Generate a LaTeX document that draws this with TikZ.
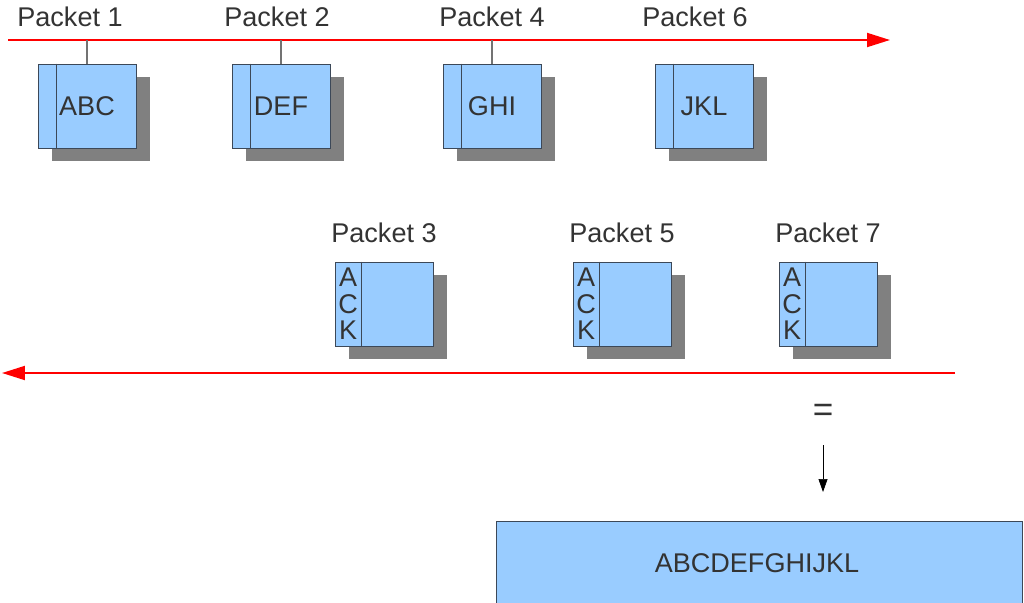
\documentclass[tikz,border=0pt]{standalone}
\usepackage{fontspec}
\setmainfont{Liberation Sans}
\usetikzlibrary{arrows.meta,shadows}

\definecolor{pktblue}{RGB}{153,204,255}
\definecolor{pktedge}{RGB}{60,72,88}
\definecolor{txtgray}{RGB}{51,51,51}

\tikzset{
  pkt/.style={draw=pktedge, fill=pktblue, minimum width=1.96cm, minimum height=1.68cm,
    inner sep=0pt, text=txtgray,
    drop shadow={shadow xshift=0.28cm, shadow yshift=-0.26cm, fill=black!50, opacity=1}},
  lbl/.style={text=txtgray},
  wire/.style={red, line width=1.1pt, -{Triangle[length=0.46cm,width=0.28cm]}},
}

\begin{document}
\begin{tikzpicture}[x=0.02cm, y=-0.02cm, font=\fontsize{15.4}{15}\selectfont]
    \useasboundingbox (0,0) rectangle (1024,602);

    % sender -> receiver
    \coordinate (tl) at (8,40);
    \coordinate (tr) at (890,40);
    \draw[wire] (tl) -- (tr);

    \foreach \name/\txt/\x/\lx/\num in {abc/ABC/87/70/1, def/DEF/281/277/2, ghi/GHI/492/492/4, jkl/JKL/704/695/6} {
        \node[lbl] (l\name) at (\lx,17) {Packet \num};
        \node[pkt] (\name) at (\x,106) {\txt};
        \draw[pktedge] ([xshift=0.38cm]\name.north west) -- ([xshift=0.38cm]\name.south west);
    }
    \foreach \name in {abc,def,ghi} \draw[black!55, thick] (\name.north) -- (\name.north |- tl);

    % acknowledgements
    \coordinate (bl) at (2,373);
    \coordinate (br) at (955,373);
    \draw[wire] (br) -- (bl);

    \foreach \name/\x/\num in {ack3/384/3, ack5/622/5, ack7/828/7} {
        \node[lbl] (l\name) at (\x,233) {Packet \num};
        \node[pkt] (\name) at (\x,304) {};
        \draw[pktedge] ([xshift=0.54cm]\name.north west) -- ([xshift=0.54cm]\name.south west);
        \node[lbl, align=center, inner sep=0pt] (t\name) at ([xshift=0.27cm]\name.west) {A\\C\\K};
    }

    % result
    \node[lbl, font=\fontsize{20}{20}\selectfont] (eq) at (823,413) {=};
    \coordinate (res) at (823,492);
    \draw[black, -{Triangle[length=0.26cm,width=0.18cm]}] (823,445) -- (res);
    \draw[pktedge, fill=pktblue] (496,521) rectangle (1022,615);
    \node[lbl] (msg) at (757,563) {ABCDEFGHIJKL};
\end{tikzpicture}
\end{document}
